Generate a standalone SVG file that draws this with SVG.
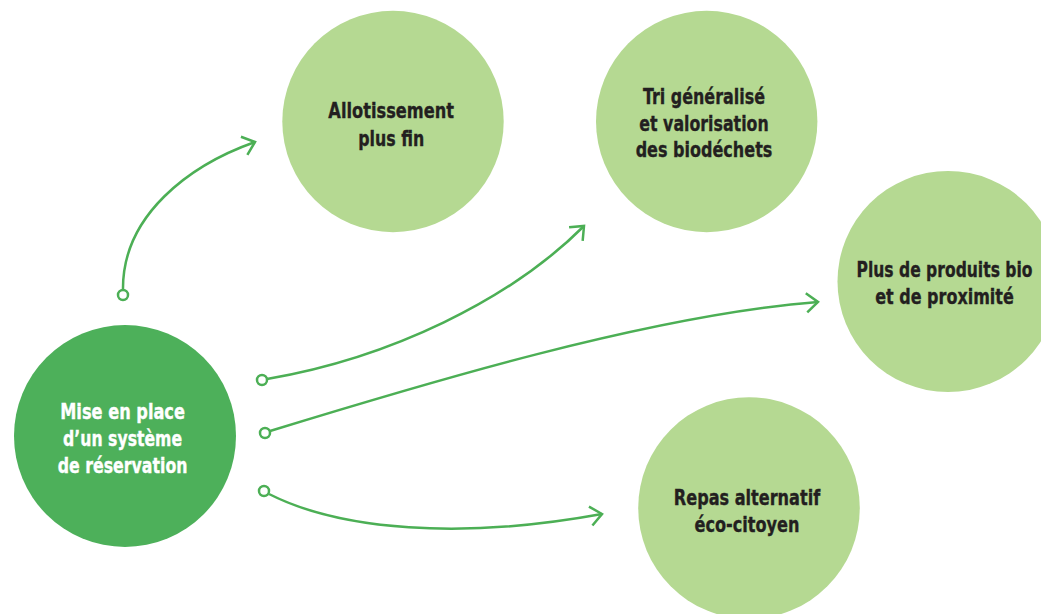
<svg xmlns="http://www.w3.org/2000/svg" width="1041" height="614" viewBox="0 0 1041 614">
<style>
.light{fill:#b5d992}
.main{fill:#4db05a}
.lbl{font-family:"Liberation Sans Narrow","DejaVu Sans Condensed","Liberation Sans",sans-serif;font-weight:bold;font-size:22px;text-anchor:middle;fill:#231f20;stroke:#231f20;stroke-width:0.35}
.lblw{fill:#ffffff;stroke:#ffffff}
.conn{fill:none;stroke:#4caf55;stroke-width:2.5}
.dot{fill:#ffffff;stroke:#4caf55;stroke-width:2.5}
</style>
<defs>
<marker id="arr" markerUnits="userSpaceOnUse" orient="auto" markerWidth="30" markerHeight="30" refX="0" refY="0" viewBox="-15 -15 30 30" overflow="visible">
<path d="M-11.5,-9.6 L0,0 L-11.5,9.6" fill="none" stroke="#4caf55" stroke-width="2.5"/>
</marker>
</defs>
<rect width="1041" height="614" fill="#ffffff"/>
<g id="connectors">
<path class="conn" d="M123,290 C122,215 190,165 255,142" marker-end="url(#arr)"/>
<path class="conn" d="M267,379 C390,358 510,300 584,226" marker-end="url(#arr)"/>
<path class="conn" d="M270,431 C420,385 650,315 818,302" marker-end="url(#arr)"/>
<path class="conn" d="M269,494 C340,530 460,540 602,514" marker-end="url(#arr)"/>
<circle class="dot" cx="123" cy="295" r="5"/>
<circle class="dot" cx="262" cy="380" r="5"/>
<circle class="dot" cx="265" cy="433" r="5"/>
<circle class="dot" cx="264" cy="491" r="5"/>
</g>
<g id="node-reservation">
<circle class="main" cx="125" cy="436" r="111"/>
<text class="lbl lblw" x="122.6" y="419" textLength="124.7" lengthAdjust="spacingAndGlyphs">Mise en place</text>
<text class="lbl lblw" x="122.6" y="446" textLength="119" lengthAdjust="spacingAndGlyphs">d’un système</text>
<text class="lbl lblw" x="122.6" y="472.5" textLength="129.7" lengthAdjust="spacingAndGlyphs">de réservation</text>
</g>
<g id="node-allotissement">
<circle class="light" cx="393" cy="121.5" r="110.7"/>
<text class="lbl" x="391.2" y="118" textLength="125.7" lengthAdjust="spacingAndGlyphs">Allotissement</text>
<text class="lbl" x="391.2" y="145.5" textLength="66" lengthAdjust="spacingAndGlyphs">plus fin</text>
</g>
<g id="node-tri">
<circle class="light" cx="706.7" cy="121.5" r="110.7"/>
<text class="lbl" x="704" y="104" textLength="122" lengthAdjust="spacingAndGlyphs">Tri généralisé</text>
<text class="lbl" x="704" y="130.5" textLength="129.3" lengthAdjust="spacingAndGlyphs">et valorisation</text>
<text class="lbl" x="704" y="156.5" textLength="136.7" lengthAdjust="spacingAndGlyphs">des biodéchets</text>
</g>
<g id="node-bio">
<circle class="light" cx="948" cy="281.5" r="110.5"/>
<text class="lbl" x="944.5" y="277" textLength="176" lengthAdjust="spacingAndGlyphs">Plus de produits bio</text>
<text class="lbl" x="944.5" y="304" textLength="138.7" lengthAdjust="spacingAndGlyphs">et de proximité</text>
</g>
<g id="node-repas">
<circle class="light" cx="749" cy="508" r="110.8"/>
<text class="lbl" x="747" y="505" textLength="146.3" lengthAdjust="spacingAndGlyphs">Repas alternatif</text>
<text class="lbl" x="747" y="531.5" textLength="105" lengthAdjust="spacingAndGlyphs">éco-citoyen</text>
</g>
</svg>
